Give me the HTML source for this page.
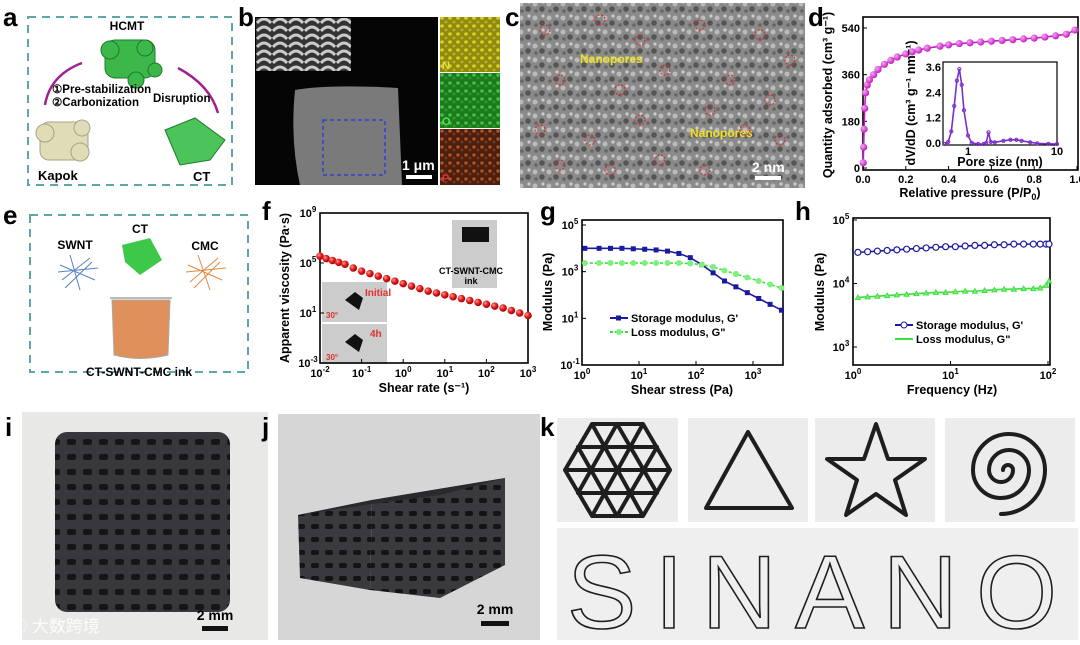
<!DOCTYPE html>
<html><head><meta charset="utf-8"><style>
html,body{margin:0;padding:0;background:#fff}
svg{display:block;font-family:"Liberation Sans",Arial,sans-serif}
.lbl{font-weight:bold;font-size:26px}
.tk{font-size:11px;font-weight:bold}
.at{font-size:12.5px;font-weight:bold}
</style></head><body>
<svg id="fig" width="1080" height="645" viewBox="0 0 1080 645" xmlns="http://www.w3.org/2000/svg">
<defs>
<radialGradient id="rb" cx="35%" cy="35%" r="65%"><stop offset="0" stop-color="#ff9a9a"/><stop offset="0.5" stop-color="#e52222"/><stop offset="1" stop-color="#a00"/></radialGradient>
<radialGradient id="mb" cx="35%" cy="35%" r="65%"><stop offset="0" stop-color="#f7a6f7"/><stop offset="1" stop-color="#c21fc2"/></radialGradient>
<pattern id="noise" width="14" height="14" patternUnits="userSpaceOnUse"><rect width="14" height="14" fill="#8a8a8a"/><circle cx="3" cy="4" r="2.5" fill="#bbb"/><circle cx="10" cy="9" r="2.8" fill="#555"/><circle cx="11" cy="2" r="1.6" fill="#ccc"/><circle cx="4" cy="11" r="1.8" fill="#666"/></pattern>
<pattern id="ny" width="8" height="8" patternUnits="userSpaceOnUse"><rect width="8" height="8" fill="#8f8a10"/><circle cx="2" cy="2" r="1.8" fill="#d8d020"/><circle cx="6" cy="6" r="1.5" fill="#b8b018"/></pattern>
<pattern id="ng" width="8" height="8" patternUnits="userSpaceOnUse"><rect width="8" height="8" fill="#1f7a1f"/><circle cx="2" cy="3" r="1.8" fill="#3fc23f"/><circle cx="6" cy="6" r="1.4" fill="#2aa02a"/></pattern>
<pattern id="no" width="8" height="8" patternUnits="userSpaceOnUse"><rect width="8" height="8" fill="#4a1e10"/><circle cx="2" cy="3" r="1.8" fill="#b05020"/><circle cx="6" cy="6" r="1.4" fill="#803818"/></pattern>
<pattern id="tiles" width="16" height="8" patternUnits="userSpaceOnUse"><rect width="16" height="8" fill="#333"/><path d="M1 7 Q8 -1 15 7" stroke="#ccc" stroke-width="3" fill="none"/></pattern>
<pattern id="grid" width="16" height="15" patternUnits="userSpaceOnUse"><rect width="16" height="15" fill="#38383c"/><rect x="3" y="4" width="9" height="6" rx="2" fill="#151517"/></pattern>
<pattern id="grid2" width="14" height="13" patternUnits="userSpaceOnUse"><rect width="14" height="13" fill="#3a3a3e"/><rect x="3" y="4" width="8" height="5" rx="2" fill="#141416"/></pattern>
</defs>

<!-- Panel a -->
<g>
<text class="lbl" x="3" y="26">a</text>
<rect x="28" y="17" width="204" height="168" fill="none" stroke="#5aa8a8" stroke-width="2" stroke-dasharray="8,6"/>
<text x="127" y="30" font-size="12" font-weight="bold" text-anchor="middle">HCMT</text>
<g fill="#3cb84a" stroke="#1e7a2a"><rect x="105" y="40" width="50" height="38" rx="10"/><circle cx="110" cy="50" r="9"/><circle cx="145" cy="48" r="8"/><circle cx="155" cy="70" r="7"/><circle cx="136" cy="80" r="8"/></g>
<path d="M45 105 Q50 75 82 63" stroke="#a0208f" stroke-width="2.5" fill="none"/>
<path d="M178 68 Q210 85 218 113" stroke="#a0208f" stroke-width="2.5" fill="none"/>
<text x="52" y="93" font-size="11.5" font-weight="bold">①Pre-stabilization</text>
<text x="52" y="106" font-size="11.5" font-weight="bold">②Carbonization</text>
<text x="153" y="102" font-size="11.5" font-weight="bold">Disruption</text>
<g fill="#e0dcb8" stroke="#a8a482"><rect x="40" y="122" width="48" height="38" rx="9"/><circle cx="45" cy="133" r="9"/><circle cx="82" cy="128" r="8"/><circle cx="80" cy="152" r="9"/></g>
<g fill="#4cc45a" stroke="#1e7a2a"><path d="M165 130 L195 118 L225 140 L210 160 L180 165 Z"/></g>
<text x="38" y="180" font-size="13" font-weight="bold">Kapok</text>
<text x="193" y="181" font-size="13" font-weight="bold">CT</text>
</g>

<!-- Panel b -->
<g>
<text class="lbl" x="238" y="26">b</text>
<rect x="255" y="17" width="183" height="168" fill="#050505"/>
<rect x="256" y="18" width="95" height="53" fill="url(#tiles)"/>
<path d="M295 90 Q330 84 398 88 L402 185 L300 185 Q290 140 295 90 Z" fill="#7a7a7a"/>
<rect x="323" y="120" width="62" height="55" fill="none" stroke="#3040d0" stroke-width="1.5" stroke-dasharray="4,3"/>
<text x="402" y="170" fill="#fff" font-size="14" font-weight="bold">1 μm</text>
<rect x="406" y="175" width="26" height="4" fill="#fff"/>
<rect x="440" y="17" width="60" height="55" fill="url(#ny)"/><text x="442" y="69" fill="#e8e040" font-size="11" font-weight="bold">N</text>
<rect x="440" y="73" width="60" height="55" fill="url(#ng)"/><text x="442" y="125" fill="#50e050" font-size="11" font-weight="bold">O</text>
<rect x="440" y="129" width="60" height="56" fill="url(#no)"/><text x="442" y="182" fill="#e03030" font-size="11" font-weight="bold">P</text>
</g>

<!-- Panel c -->
<g>
<text class="lbl" x="505" y="26">c</text>
<rect x="520" y="3" width="285" height="185" fill="url(#noise)"/>
<text x="580" y="63" fill="#f0e020" font-size="12" font-weight="bold">Nanopores</text>
<text x="690" y="137" fill="#f0e020" font-size="12" font-weight="bold">Nanopores</text>
<text x="752" y="172" fill="#fff" font-size="14" font-weight="bold">2 nm</text>
<rect x="755" y="176" width="26" height="4" fill="#fff"/>
<g id="pores" fill="none" stroke="#d03030" stroke-width="1.2" stroke-dasharray="2,1.5"></g>
</g>

<!-- Panel d -->
<g>
<text class="lbl" x="808" y="26">d</text>
<g id="chartD"></g>
</g>

<!-- Panel e -->
<g>
<text class="lbl" x="3" y="224">e</text>
<rect x="30" y="215" width="218" height="157" fill="none" stroke="#5aa8a8" stroke-width="2" stroke-dasharray="8,6"/>
<text x="75" y="249" font-size="12" font-weight="bold" text-anchor="middle">SWNT</text>
<text x="140" y="233" font-size="12" font-weight="bold" text-anchor="middle">CT</text>
<text x="205" y="250" font-size="12" font-weight="bold" text-anchor="middle">CMC</text>
<g stroke="#5a80c8" stroke-width="1" fill="none"><path d="M60 265 L95 280 M62 280 L90 258 M70 255 L80 290 M58 272 L98 268 M65 288 L92 262"/></g>
<g stroke="#e08a40" stroke-width="1" fill="none"><path d="M188 265 L222 280 M190 282 L218 258 M198 255 L210 290 M186 272 L226 268 M194 288 L220 262"/></g>
<path d="M122 245 L150 238 L162 260 L140 275 L125 262 Z" fill="#3ec84a"/>
<path d="M112 300 L170 300 L168 355 Q140 362 114 355 Z" fill="#e0905a" stroke="#aaa"/>
<path d="M110 298 L172 298" stroke="#bbb" stroke-width="2"/>
<text x="139" y="376" font-size="12" font-weight="bold" text-anchor="middle">CT-SWNT-CMC ink</text>
</g>

<!-- Panel f -->
<g>
<text class="lbl" x="262" y="220">f</text>
<rect x="452" y="220" width="45" height="68" fill="#ccc"/>
<rect x="462" y="227" width="27" height="15" fill="#111"/>
<text x="471" y="274" font-size="9" font-weight="bold" text-anchor="middle">CT-SWNT-CMC</text>
<text x="471" y="284" font-size="9" font-weight="bold" text-anchor="middle">ink</text>
<rect x="322" y="282" width="65" height="40" fill="#ccc"/><rect x="322" y="324" width="65" height="40" fill="#ccc"/>
<path d="M345 300 l10 -8 l8 6 l-4 12 z M345 342 l10 -8 l8 6 l-4 12 z" fill="#111"/>
<text x="365" y="296" fill="#e03030" font-size="10" font-weight="bold">Initial</text>
<text x="370" y="337" fill="#e03030" font-size="10" font-weight="bold">4h</text>
<text x="326" y="318" fill="#e03030" font-size="8" font-weight="bold">30°</text>
<text x="326" y="360" fill="#e03030" font-size="8" font-weight="bold">30°</text>
<g id="chartF"></g>
</g>

<!-- Panel g -->
<g>
<text class="lbl" x="540" y="220">g</text>
<g id="chartG"></g>
</g>

<!-- Panel h -->
<g>
<text class="lbl" x="795" y="220">h</text>
<g id="chartH"></g>
</g>

<!-- Panel i -->
<g>
<text class="lbl" x="5" y="436">i</text>
<rect x="22" y="412" width="246" height="228" fill="#e8e8e6"/>
<rect x="55" y="432" width="175" height="180" rx="12" fill="url(#grid)"/>
<text x="215" y="620" font-size="14" font-weight="bold" text-anchor="middle">2 mm</text>
<rect x="202" y="626" width="26" height="5" fill="#111"/>
<text x="10" y="632" fill="#fff" font-size="17" font-family="Liberation Sans, Noto Sans CJK SC, sans-serif" opacity="0.9">ⓘ 大数跨境</text>
</g>

<!-- Panel j -->
<g>
<text class="lbl" x="262" y="436">j</text>
<rect x="278" y="414" width="262" height="226" fill="#d6d6d6"/>
<path d="M298 515 L372 500 L370 590 L300 578 Z" fill="url(#grid2)"/>
<path d="M372 500 L505 478 L505 565 L440 598 L370 590 Z" fill="url(#grid2)"/>
<path d="M298 515 L372 500 L505 478 L440 495 L365 505 Z" fill="#2a2a2e"/>
<text x="495" y="614" font-size="14" font-weight="bold" text-anchor="middle">2 mm</text>
<rect x="481" y="621" width="28" height="5" fill="#111"/>
</g>

<!-- Panel k -->
<g>
<text class="lbl" x="540" y="436">k</text>
<rect x="557" y="418" width="121" height="104" fill="#ececec"/>
<rect x="688" y="418" width="120" height="104" fill="#ececec"/>
<rect x="815" y="418" width="120" height="104" fill="#ececec"/>
<rect x="945" y="418" width="130" height="104" fill="#ececec"/>
<rect x="557" y="528" width="521" height="112" fill="#efefef"/>
<g stroke="#1e1e1e" stroke-width="4" fill="none" stroke-linejoin="round" stroke-linecap="round">
<path d="M592 424 L643 424 L670 470 L643 516 L592 516 L565 470 Z M565 470 L670 470 M578 447 L657 447 M578 493 L657 493 M592 424 L643 516 M617 424 L657 493 M643 424 L592 516 M617 424 L578 493 M578 447 L617 516 M657 447 L617 516"/>
<path d="M748 432 L792 508 L706 508 Z"/>
<path d="M876 424 L888 459 L925 459 L895 480 L906 515 L876 494 L846 515 L857 480 L827 459 L864 459 Z"/>
<path d="M1003 470 a5 5 0 0 1 10 0 a12 12 0 0 1 -24 0 a20 20 0 0 1 40 0 a28 28 0 0 1 -56 0 a36 36 0 0 1 72 0 a44 44 0 0 1 -44 44"/>
</g>
<text x="567" y="628" font-size="104" fill="none" stroke="#1e1e1e" stroke-width="1.6" textLength="490" lengthAdjust="spacing" font-family="Liberation Sans, sans-serif">SINANO</text>
</g>

<script>
// ---------- data ----------
var isoP=[0.001,0.003,0.005,0.008,0.012,0.02,0.03,0.05,0.07,0.1,0.13,0.16,0.2,0.23,0.26,0.3,0.36,0.4,0.45,0.5,0.55,0.6,0.65,0.7,0.75,0.8,0.85,0.9,0.95,0.99];
var isoQ=[20,80,150,230,290,320,340,360,380,400,415,428,440,448,455,462,470,475,480,483,486,489,492,495,498,501,505,510,516,532];
var poreX=[0.55,0.6,0.65,0.7,0.75,0.8,0.85,0.9,1.0,1.1,1.3,1.5,1.6,1.7,1.8,2.0,2.5,3.0,3.5,4,5,6,8,10];
var poreY=[0,0.1,0.6,1.8,3.0,3.55,2.8,1.6,0.4,0.05,0,0,0.05,0.55,0.1,0.08,0.15,0.2,0.2,0.15,0.08,0.03,0.01,0];
var fRate=[-2,-1.85,-1.7,-1.55,-1.4,-1.2,-1,-0.8,-0.6,-0.4,-0.2,0,0.2,0.4,0.6,0.8,1,1.2,1.4,1.6,1.8,2,2.2,2.4,2.6,2.8,3];
var fVisc=[5.55,5.35,5.2,5.05,4.9,4.6,4.35,4.15,3.95,3.75,3.55,3.35,3.15,2.95,2.75,2.6,2.45,2.3,2.15,2.0,1.85,1.7,1.55,1.4,1.2,1.0,0.8];
var gX=[0.05,0.3,0.5,0.7,0.9,1.1,1.3,1.5,1.7,1.9,2.1,2.3,2.5,2.7,2.9,3.1,3.3,3.5];
var gGp=[4,4,4,4,3.98,3.96,3.93,3.88,3.78,3.6,3.3,2.95,2.6,2.35,2.1,1.85,1.6,1.35];
var gGpp=[3.37,3.37,3.37,3.37,3.37,3.37,3.37,3.37,3.37,3.35,3.3,3.2,3.05,2.9,2.75,2.6,2.45,2.3];
var hX=[0.05,0.15,0.25,0.35,0.45,0.55,0.65,0.75,0.85,0.95,1.05,1.15,1.25,1.35,1.45,1.55,1.65,1.75,1.85,1.92,1.98,2.01];
var hGp=[4.49,4.5,4.51,4.52,4.53,4.54,4.55,4.56,4.57,4.58,4.58,4.59,4.6,4.6,4.61,4.61,4.62,4.62,4.62,4.62,4.62,4.62];
var hGpp=[3.78,3.79,3.8,3.81,3.82,3.83,3.84,3.85,3.86,3.86,3.87,3.88,3.88,3.89,3.9,3.91,3.91,3.92,3.92,3.93,3.97,4.04];
var dXTicks=["0.0","0.2","0.4","0.6","0.8","1.0"];
var dYTicks=["0","180","360","540"];

var NS="http://www.w3.org/2000/svg";
function mk(p,t,a){var e=document.createElementNS(NS,t);for(var k in a)e.setAttribute(k,a[k]);p.appendChild(e);return e;}
function txt(p,x,y,s,cls,anc,extra){var e=mk(p,'text',{x:x,y:y,'class':cls,'text-anchor':anc||'middle'});if(extra)for(var k in extra)e.setAttribute(k,extra[k]);e.textContent=s;return e;}
function sup(p,x,y,base,ex,cls){var e=mk(p,'text',{x:x,y:y,'class':cls,'text-anchor':'middle'});e.textContent=base;var s=mk(e,'tspan',{dy:-5,'font-size':8});s.textContent=ex;return e;}
function lin(d0,d1,r0,r1){return function(v){return r0+(v-d0)/(d1-d0)*(r1-r0);};}
function frame(g,x0,y0,x1,y1,name){var r=mk(g,'rect',{x:x0,y:y0,width:x1-x0,height:y1-y0,fill:'none',stroke:'#000','stroke-width':1.6});}
function poly(g,xs,ys,fx,fy,col,dash,name){var pts=xs.map(function(v,i){return fx(v)+','+fy(ys[i]);}).join(' ');var l=mk(g,'polyline',{points:pts,fill:'none',stroke:col,'stroke-width':1.6});if(dash)l.setAttribute('stroke-dasharray',dash);}

(function(){var g=document.getElementById('pores');var pts=[[545,30],[600,20],[640,40],[700,25],[760,35],[790,60],[560,80],[620,90],[665,70],[730,80],[770,100],[540,130],[590,140],[640,120],[710,110],[745,130],[560,165],[610,170],[660,160],[705,170],[780,140]];pts.forEach(function(p){var c=mk(g,'circle',{cx:p[0],cy:p[1],r:5});});})();

// chart D
(function(){var g=document.getElementById('chartD');var X0=863,X1=1078,Y0=17,Y1=170;
var fx=lin(0,1,863,1077),fy=lin(0,540,168,28);
frame(g,X0,Y0,X1,Y1,'isotherm-plot-frame');
dXTicks.forEach(function(t,i){var v=i*0.2;mk(g,'line',{x1:fx(v),x2:fx(v),y1:Y1,y2:Y1-4,stroke:'#000'});var e=txt(g,fx(v),Y1+13,t,'tk');});
dYTicks.forEach(function(t,i){var v=i*180;mk(g,'line',{x1:X0,x2:X0+4,y1:fy(v),y2:fy(v),stroke:'#000'});var e=txt(g,X0-3,fy(v)+4,t,'tk','end');});
var xt=txt(g,970,197,'Relative pressure (P/P','at');var s=mk(xt,'tspan',{dy:3,'font-size':9});s.textContent='0';var s2=mk(xt,'tspan',{dy:-3});s2.textContent=')';
var yt=txt(g,0,0,'Quantity adsorbed (cm³ g⁻¹)','at','middle',{transform:'translate(832,95) rotate(-90)'});
poly(g,isoP,isoQ,fx,fy,'#c21fc2',null,'isotherm-line');
isoP.forEach(function(v,i){var c=mk(g,'circle',{cx:fx(v),cy:fy(isoQ[i]),r:3.6,fill:'url(#mb)'});});
var IX0=943,IX1=1057,IY0=62,IY1=145;var lx=function(v){return 968+Math.log10(v)*89;},ly=lin(0,3.6,144,68);
mk(g,'rect',{x:IX0,y:IY0,width:IX1-IX0,height:IY1-IY0,fill:'#fff',stroke:'#000','stroke-width':1.2});
[["0.0",0],["1.2",1.2],["2.4",2.4],["3.6",3.6]].forEach(function(t){var e=txt(g,IX0-2,ly(t[1])+3,t[0],'tk','end',{'font-size':8.5});});
[["1",1],["10",10]].forEach(function(t){var e=txt(g,lx(t[1]),IY1+10,t[0],'tk','middle',{'font-size':8.5});});
var it=txt(g,1000,166,'Pore size (nm)','at','middle',{'font-size':9.5});
var iy=txt(g,0,0,'dV/dD (cm³ g⁻¹ nm⁻¹)','at','middle',{'font-size':8.5,transform:'translate(915,103) rotate(-90)'});
poly(g,poreX,poreY,lx,ly,'#7a2fc8',null,'pore-distribution-line');
poreX.forEach(function(v,i){var c=mk(g,'circle',{cx:lx(v),cy:ly(poreY[i]),r:1.6,fill:'none',stroke:'#7a2fc8'});});
})();

function logAxes(g,X0,X1,Y0,Y1,fx,fy,xExps,yExps,name){
 frame(g,X0,Y0,X1,Y1,name+'-frame');
 xExps.forEach(function(e){var x=fx(e);mk(g,'line',{x1:x,x2:x,y1:Y1,y2:Y1-4,stroke:'#000'});var t=sup(g,x,Y1+14,'10',String(e),'tk');});
 yExps.forEach(function(e){var y=fy(e);mk(g,'line',{x1:X0,x2:X0+4,y1:y,y2:y,stroke:'#000'});var t=sup(g,X0-12,y+4,'10',String(e),'tk');});
}

// chart F
(function(){var g=document.getElementById('chartF');var fx=lin(-2,3,320,528),fy=lin(-3,9,363,213);
logAxes(g,320,528,213,363,fx,fy,[-2,-1,0,1,2,3],[-3,1,5,9],'f');
var xt=txt(g,424,392,'Shear rate (s⁻¹)','at');
var yt=txt(g,0,0,'Apparent viscosity (Pa·s)','at','middle',{transform:'translate(289,288) rotate(-90)'});
fRate.forEach(function(v,i){var c=mk(g,'circle',{cx:fx(v),cy:fy(fVisc[i]),r:3.8,fill:'url(#rb)'});});
})();

// chart G
(function(){var g=document.getElementById('chartG');var fx=lin(0,3,582,753),fy=lin(-1,5,365,225);
logAxes(g,582,783,220,365,fx,fy,[0,1,2,3],[-1,1,3,5],'g');
var xt=txt(g,682,394,'Shear stress (Pa)','at');
var yt=txt(g,0,0,'Modulus (Pa)','at','middle',{transform:'translate(552,292) rotate(-90)'});
poly(g,gX,gGpp,fx,fy,'#3ee03e','3,2','loss-modulus-line-g');
poly(g,gX,gGp,fx,fy,'#1a1aa0',null,'storage-modulus-line-g');
gX.forEach(function(v,i){var r=mk(g,'rect',{x:fx(v)-2.5,y:fy(gGp[i])-2.5,width:5,height:5,fill:'#1a1aa0'});
 var c=mk(g,'circle',{cx:fx(v),cy:fy(gGpp[i]),r:3,fill:'#7ef07e'});});
mk(g,'line',{x1:610,x2:628,y1:318,y2:318,stroke:'#1a1aa0','stroke-width':2});mk(g,'rect',{x:616,y:315.5,width:5,height:5,fill:'#1a1aa0'});
var l1=txt(g,631,322,"Storage modulus, G'",'tk','start');
mk(g,'line',{x1:610,x2:628,y1:332,y2:332,stroke:'#3ee03e','stroke-width':2,'stroke-dasharray':'3,2'});mk(g,'circle',{cx:619,cy:332,r:3,fill:'#7ef07e'});
var l2=txt(g,631,336,'Loss modulus, G"','tk','start');
})();

// chart H
(function(){var g=document.getElementById('chartH');var fx=lin(0,2,853,1048),fy=lin(3,5,347,220);
frame(g,853,218,1050,365,'h-frame');
[0,1,2].forEach(function(e){var x=fx(e);mk(g,'line',{x1:x,x2:x,y1:365,y2:361,stroke:'#000'});var t=sup(g,x,379,'10',String(e),'tk');});
[3,4,5].forEach(function(e){var y=fy(e);mk(g,'line',{x1:853,x2:857,y1:y,y2:y,stroke:'#000'});var t=sup(g,841,y+4,'10',String(e),'tk');});
var xt=txt(g,952,394,'Frequency (Hz)','at');
var yt=txt(g,0,0,'Modulus (Pa)','at','middle',{transform:'translate(824,292) rotate(-90)'});
poly(g,hX,hGp,fx,fy,'#1a1aa0',null,'storage-modulus-line-h');
poly(g,hX,hGpp,fx,fy,'#3ee03e',null,'loss-modulus-line-h');
hX.forEach(function(v,i){var c=mk(g,'circle',{cx:fx(v),cy:fy(hGp[i]),r:3,fill:'#fff',stroke:'#1a1aa0','stroke-width':1.2});
 var p=mk(g,'path',{d:'M'+(fx(v)-2.5)+' '+(fy(hGpp[i])+2)+' l2.5 -4.5 l2.5 4.5 z',fill:'#7ef07e',stroke:'#3ee03e'});});
mk(g,'line',{x1:895,x2:913,y1:325,y2:325,stroke:'#1a1aa0','stroke-width':2});mk(g,'circle',{cx:904,cy:325,r:3,fill:'#fff',stroke:'#1a1aa0'});
var l1=txt(g,916,329,"Storage modulus, G'",'tk','start');
mk(g,'line',{x1:895,x2:913,y1:339,y2:339,stroke:'#3ee03e','stroke-width':2});
var l2=txt(g,916,343,'Loss modulus, G"','tk','start');
})();
</script>
</svg>
</body></html>
